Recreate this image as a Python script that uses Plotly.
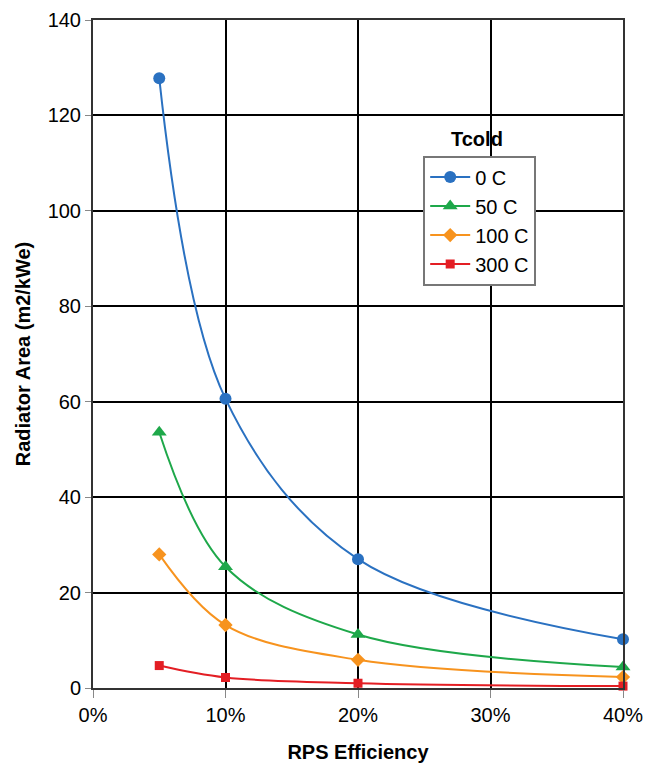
import plotly.graph_objects as go

efficiency = [0.05, 0.10, 0.20, 0.40]
series_names = ["0 C", "50 C", "100 C", "300 C"]
area_0C = [127.8, 60.6, 27.0, 10.2]
area_50C = [53.6, 25.4, 11.2, 4.4]
area_100C = [28.0, 13.2, 5.9, 2.3]
area_300C = [4.7, 2.2, 1.0, 0.4]

colors = ["#2a71c1", "#1ea84a", "#f7931e", "#e31e24"]
symbols = ["circle", "triangle-up", "diamond", "square"]
sizes = [12, 13, 11, 9]

fig = go.Figure()
for name, vals, c, s, sz in zip(series_names, [area_0C, area_50C, area_100C, area_300C], colors, symbols, sizes):
    fig.add_trace(go.Scatter(
        x=efficiency, y=vals, name=name, mode="lines+markers",
        line=dict(color=c, width=2, shape="spline", smoothing=1.0),
        marker=dict(color=c, symbol=s, size=sz),
        cliponaxis=False,
    ))

font = "Arial, Liberation Sans, sans-serif"
fig.update_layout(
    width=645, height=763,
    margin=dict(l=93, r=22, t=20, b=75, autoexpand=False),
    paper_bgcolor="white", plot_bgcolor="white",
    font=dict(family=font, size=20, color="black"),
    showlegend=True,
    legend=dict(
        x=0.623, y=0.797, xanchor="left", yanchor="top",
        bgcolor="white", bordercolor="#777777", borderwidth=2,
        font=dict(size=20), itemwidth=40, tracegroupgap=0,
    ),
    annotations=[dict(text="<b>Tcold</b>", x=0.725, y=0.802, xref="paper", yref="paper",
                      showarrow=False, font=dict(size=20), xanchor="center", yanchor="bottom")],
)
fig.update_xaxes(
    range=[0, 0.40], tickvals=[0, 0.1, 0.2, 0.3, 0.4], tickformat=".0%",
    showgrid=True, gridcolor="black", gridwidth=1.5,
    showline=True, linecolor="#333333", linewidth=2, mirror=True,
    ticks="outside", ticklen=8, tickcolor="#888888",
    zeroline=False, automargin=False,
    title=dict(text="<b>RPS Efficiency</b>", font=dict(size=20), standoff=20),
)
fig.update_yaxes(
    range=[0, 140], tickvals=list(range(0, 141, 20)),
    showgrid=True, gridcolor="black", gridwidth=1.5,
    showline=True, linecolor="#333333", linewidth=2, mirror=True,
    ticks="outside", ticklen=6, tickcolor="#888888",
    zeroline=False, automargin=False,
    title=dict(text="<b>Radiator Area (m2/kWe)</b>", font=dict(size=20), standoff=12),
)
fig.write_html(
    "out.html",
    config={"displayModeBar": False},
    post_script="document.body.style.margin='0';document.body.style.overflow='hidden';",
)
